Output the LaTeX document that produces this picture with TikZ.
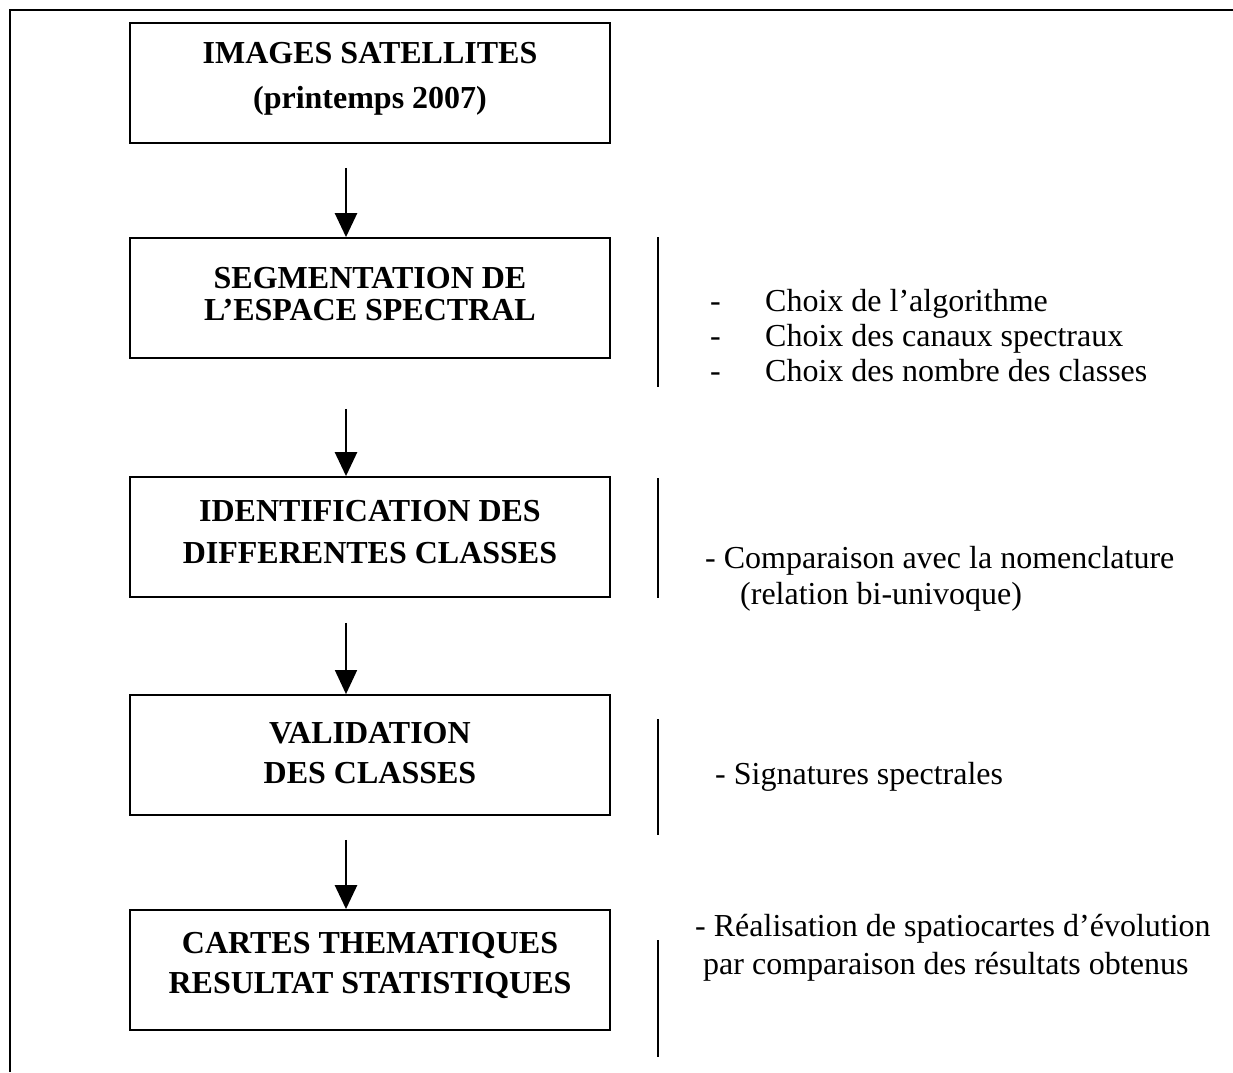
\documentclass[tikz,border=0pt]{standalone}
\usepackage{fontspec}
\setmainfont{Liberation Serif}
\usepackage{tikz}
\usetikzlibrary{arrows.meta,positioning,calc}

\begin{document}
\begin{tikzpicture}[x=1pt, y=-1pt,
    every node/.style={font=\fontsize{32}{40}\selectfont},
    stage/.style={rectangle, draw, line width=1.8pt, minimum width=480pt, minimum height=120pt},
    title/.style={align=center, inner sep=0pt, font=\fontsize{32}{40}\selectfont\bfseries},
    note/.style={anchor=base west, inner sep=0pt},
    arrow/.style={-{Triangle[width=22pt,length=24pt]}, line width=2.6pt},
    thinarrow/.style={-{Triangle[width=22pt,length=24pt]}, line width=1.6pt},
    bar/.style={line width=2.6pt}
]
    \useasboundingbox (0,0) rectangle (1233,1072);
    \draw[line width=1.8pt] (10,1072) -- (10,10) -- (1233,10);

    \node[stage] (images) at (370,83) {};
    \node[stage] (segment) at (370,298) {};
    \node[stage] (ident) at (370,537) {};
    \node[stage] (valid) at (370,755) {};
    \node[stage] (cartes) at (370,970) {};

    \node[title] (images-t) at ([yshift=4pt]images.center) {IMAGES SATELLITES\\[5pt](printemps 2007)};
    \node[title] (segment-t) at ([yshift=4pt]segment.center) {SEGMENTATION DE\\[-8pt]L'ESPACE SPECTRAL};
    \node[title] (ident-t) at ([yshift=5pt]ident.center) {IDENTIFICATION DES\\[2pt]DIFFERENTES CLASSES};
    \node[title] (valid-t) at ([yshift=2pt]valid.center) {VALIDATION\\DES CLASSES};
    \node[title] (cartes-t) at ([yshift=5pt]cartes.center) {CARTES THEMATIQUES\\RESULTAT STATISTIQUES};

    \draw[arrow] ([xshift=-24pt,yshift=-24pt]images.south) -- ([xshift=-24pt]segment.north);
    \draw[arrow] ([xshift=-24pt,yshift=-50pt]segment.south) -- ([xshift=-24pt]ident.north);
    \draw[thinarrow] ([xshift=-24pt,yshift=-25pt]ident.south) -- ([xshift=-24pt]valid.north);
    \draw[arrow] ([xshift=-24pt,yshift=-24pt]valid.south) -- ([xshift=-24pt]cartes.north);

    % bars
    \draw[bar] (658,237) -- (658,387);
    \draw[bar] (658,478) -- (658,598);
    \draw[bar] (658,719) -- (658,835);
    \draw[bar] (658,940) -- (658,1057);

    % notes segmentation
    \node[note] (d1) at (710,311) {-};
    \node[note] (c1) at (765,311) {Choix de l'algorithme};
    \node[note] (d2) at (710,346) {-};
    \node[note] (c2) at (765,346) {Choix des canaux spectraux};
    \node[note] (d3) at (710,381) {-};
    \node[note] (c3) at (765,381) {Choix des nombre des classes};

    % notes identification
    \node[note] (comp) at (705,568) {- Comparaison avec la nomenclature};
    \node[note] (rel) at (740,604) {(relation bi-univoque)};

    % notes validation
    \node[note] (sign) at (715,784) {- Signatures spectrales};

    % notes cartes
    \node[note] (real) at (695,936) {- Réalisation de spatiocartes d'évolution};
    \node[note] (par) at (703,974) {par comparaison des résultats obtenus};
\end{tikzpicture}
\end{document}
